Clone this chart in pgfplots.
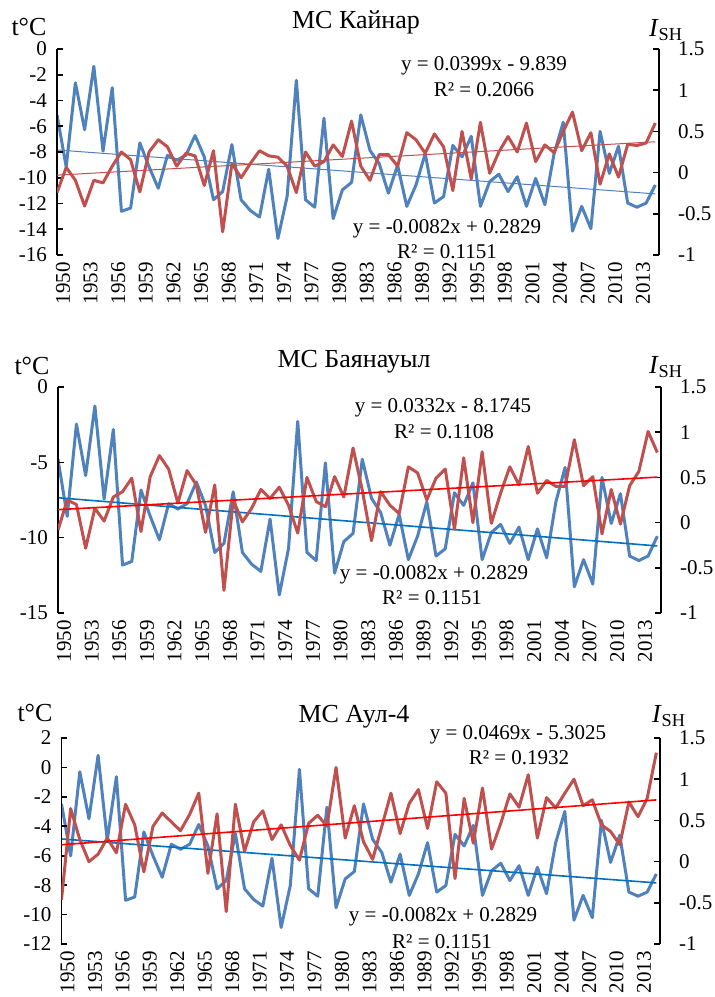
\documentclass[border=0pt]{standalone}
\usepackage{fontspec}
\setmainfont{Liberation Serif}
\usepackage{pgfplots}
\usepackage{pgfplotstable}
\pgfplotsset{compat=1.18}

\definecolor{tred}{HTML}{C0504D}
\definecolor{iblue}{HTML}{4F81BD}
\definecolor{trblue}{HTML}{0070C0}

% year, I_SH, t (Kainar), t (Bayanaul), t (Aul-4)
\pgfplotstableread{
year ish t1 t2 t3
1950 0.70 -11.15 -9.5 -9.0
1951 0.07 -9.2 -7.5 -2.8
1952 1.09 -10.2 -7.8 -4.9
1953 0.52 -12.2 -10.7 -6.4
1954 1.29 -10.2 -8.05 -5.9
1955 0.26 -10.4 -8.9 -4.8
1956 1.03 -9.1 -7.3 -5.8
1957 -0.47 -8.0 -6.95 -2.5
1958 -0.43 -8.6 -6.05 -3.9
1959 0.36 -11.1 -9.6 -7.1
1960 0.07 -8.0 -5.95 -4.0
1961 -0.19 -7.05 -4.55 -3.1
1962 0.21 -7.6 -5.45 -3.7
1963 0.15 -9.1 -7.7 -4.3
1964 0.21 -8.1 -5.55 -3.2
1965 0.45 -8.3 -6.5 -1.75
1966 0.19 -10.6 -9.65 -7.2
1967 -0.33 -7.9 -6.5 -3.15
1968 -0.23 -14.2 -13.5 -9.8
1969 0.34 -8.9 -7.5 -2.5
1970 -0.33 -10.0 -8.95 -5.7
1971 -0.46 -8.9 -8.05 -3.7
1972 -0.54 -7.9 -6.8 -2.95
1973 0.04 -8.3 -7.4 -4.9
1974 -0.80 -8.4 -6.65 -3.9
1975 -0.29 -9.1 -7.85 -5.3
1976 1.12 -11.15 -9.7 -6.3
1977 -0.33 -8.0 -6.0 -3.8
1978 -0.42 -9.1 -7.6 -3.25
1979 0.66 -8.75 -7.95 -4.0
1980 -0.56 -7.45 -5.95 0.0
1981 -0.21 -8.35 -7.3 -4.8
1982 -0.12 -5.6 -4.05 -2.6
1983 0.70 -9.1 -6.85 -5.05
1984 0.27 -10.2 -10.2 -6.25
1985 0.11 -8.2 -6.95 -4.0
1986 -0.25 -8.2 -7.85 -1.75
1987 0.09 -9.1 -8.4 -4.5
1988 -0.41 -6.5 -5.3 -2.45
1989 -0.15 -7.05 -5.7 -1.5
1990 0.23 -8.1 -7.5 -4.15
1991 -0.37 -6.6 -6.05 -0.98
1992 -0.29 -7.6 -5.45 -1.75
1993 0.33 -11.0 -9.45 -7.55
1994 0.19 -6.4 -4.7 -2.1
1995 0.44 -10.1 -9.0 -5.15
1996 -0.41 -5.7 -4.3 -1.4
1997 -0.11 -9.65 -9.05 -5.55
1998 -0.02 -8.0 -7.05 -3.8
1999 -0.23 -6.8 -5.3 -1.8
2000 -0.05 -8.0 -6.5 -2.7
2001 -0.41 -5.75 -3.95 -0.5
2002 -0.07 -8.75 -7.05 -4.8
2003 -0.39 -7.45 -6.2 -2.05
2004 0.23 -8.05 -6.6 -2.75
2005 0.61 -6.4 -6.6 -1.75
2006 -0.71 -4.9 -3.5 -0.8
2007 -0.41 -7.9 -6.55 -2.6
2008 -0.68 -6.5 -5.95 -2.2
2009 0.50 -10.5 -9.75 -3.9
2010 -0.01 -8.15 -6.8 -4.35
2011 0.32 -9.95 -9.1 -5.25
2012 -0.37 -7.4 -6.55 -2.35
2013 -0.42 -7.5 -5.6 -3.35
2014 -0.37 -7.3 -2.95 -2.1
2015 -0.15 -5.75 -4.35 1.0
}\datatab

\newcommand\tk{\fontsize{10.5}{12}\selectfont}
\newcommand\ttl{\fontsize{13}{15}\selectfont}

\pgfplotsset{
  base/.style={scale only axis, xmin=1950, xmax=2015.4,
    axis line style={line width=0.8pt},
    tick style={black, line width=0.8pt},
    major tick length=3pt, tick align=inside,
    tick label style={font=\tk}},
  leftax/.style={base, axis x line*=bottom, axis y line*=left,
    x axis line style={draw=none}, major x tick style={draw=none},
    xtick={1950,1953,...,2013},
    xticklabels={1950,1953,1956,1959,1962,1965,1968,1971,1974,1977,1980,
      1983,1986,1989,1992,1995,1998,2001,2004,2007,2010,2013},
    xticklabel style={rotate=90, anchor=east, yshift=-3pt},
    yticklabel style={xshift=-1.5pt}},
  rightax/.style={base, axis x line=none, axis y line*=right,
    ymin=-1, ymax=1.5, ytick={-1,-0.5,0,0.5,1,1.5},
    yticklabels={-1,-0.5,0,0.5,1,1.5},
    yticklabel style={anchor=west, xshift=6pt}},
  dat/.style={line width=1.5pt, line join=round},
}

\begin{document}
\begin{tikzpicture}
\useasboundingbox (0,0) rectangle (357.5pt,498.5pt);

% ---------- panel 1 ----------
\begin{axis}[rightax, at={(28.5pt,371pt)}, anchor=south west, width=301pt, height=103pt]
\addplot[dat, iblue] table[x=year, y=ish] {\datatab};
\addplot[iblue, line width=0.5pt] coordinates {(1950,0.2747) (2015,-0.2583)};
\end{axis}
\begin{axis}[leftax, at={(28.5pt,371pt)}, anchor=south west, width=301pt, height=103pt,
  ymin=-16, ymax=0, ytick={-16,-14,...,0},
  yticklabels={-16,-14,-12,-10,-8,-6,-4,-2,0}]
\addplot[dat, tred] table[x=year, y=t1] {\datatab};
\addplot[tred, line width=0.5pt] coordinates {(1950,-9.7991) (2015,-7.2056)};
\end{axis}
\node[font=\ttl] at (178pt,487.5pt) {МС Кайнар};
\node[font=\ttl] at (14.5pt,485pt) {t°C};
\node[font=\ttl] at (333pt,483.5pt) {\textit{I}\textsubscript{SH}};
\node[font=\tk] at (242pt,465.5pt) {y = 0.0399x - 9.839};
\node[font=\tk] at (242pt,453.5pt) {R² = 0.2066};
\node[font=\tk] at (223.5pt,384pt) {y = -0.0082x + 0.2829};
\node[font=\tk] at (223.5pt,372.5pt) {R² = 0.1151};

% ---------- panel 2 ----------
\begin{axis}[rightax, at={(29pt,192pt)}, anchor=south west, width=301.5pt, height=113pt]
\addplot[dat, iblue] table[x=year, y=ish] {\datatab};
\addplot[trblue, line width=0.8pt] coordinates {(1950,0.2747) (2015,-0.2583)};
\end{axis}
\begin{axis}[leftax, at={(29pt,192pt)}, anchor=south west, width=301.5pt, height=113pt,
  ymin=-15, ymax=0, ytick={-15,-10,-5,0},
  yticklabels={-15,-10,-5,0}]
\addplot[dat, tred] table[x=year, y=t2] {\datatab};
\addplot[red, line width=0.8pt] coordinates {(1950,-8.1413) (2015,-5.9833)};
\end{axis}
\node[font=\ttl] at (177pt,317.5pt) {МС Баянауыл};
\node[font=\ttl] at (16pt,315.5pt) {t°C};
\node[font=\ttl] at (333pt,315pt) {\textit{I}\textsubscript{SH}};
\node[font=\tk] at (221.5pt,294.5pt) {y = 0.0332x - 8.1745};
\node[font=\tk] at (222pt,282.5pt) {R² = 0.1108};
\node[font=\tk] at (217pt,211pt) {y = -0.0082x + 0.2829};
\node[font=\tk] at (216pt,199.5pt) {R² = 0.1151};

% ---------- panel 3 ----------
\begin{axis}[rightax, at={(30.75pt,26.5pt)}, anchor=south west, width=299.25pt, height=103pt]
\addplot[dat, iblue] table[x=year, y=ish] {\datatab};
\addplot[trblue, line width=0.8pt] coordinates {(1950,0.2747) (2015,-0.2583)};
\end{axis}
\begin{axis}[leftax, at={(30.75pt,26.5pt)}, anchor=south west, width=299.25pt, height=103pt,
  ymin=-12, ymax=2, ytick={-12,-10,...,2},
  yticklabels={-12,-10,-8,-6,-4,-2,0,2}]
\addplot[dat, tred] table[x=year, y=t3] {\datatab};
\addplot[red, line width=0.8pt] coordinates {(1950,-5.2556) (2015,-2.2071)};
\end{axis}
\node[font=\ttl] at (177pt,140pt) {МС Аул-4};
\node[font=\ttl] at (17.5pt,142pt) {t°C};
\node[font=\ttl] at (334.5pt,140.5pt) {\textit{I}\textsubscript{SH}};
\node[font=\tk] at (259pt,131pt) {y = 0.0469x - 5.3025};
\node[font=\tk] at (259.5pt,119.5pt) {R² = 0.1932};
\node[font=\tk] at (221.5pt,40pt) {y = -0.0082x + 0.2829};
\node[font=\tk] at (221pt,27.5pt) {R² = 0.1151};
\end{tikzpicture}
\end{document}
